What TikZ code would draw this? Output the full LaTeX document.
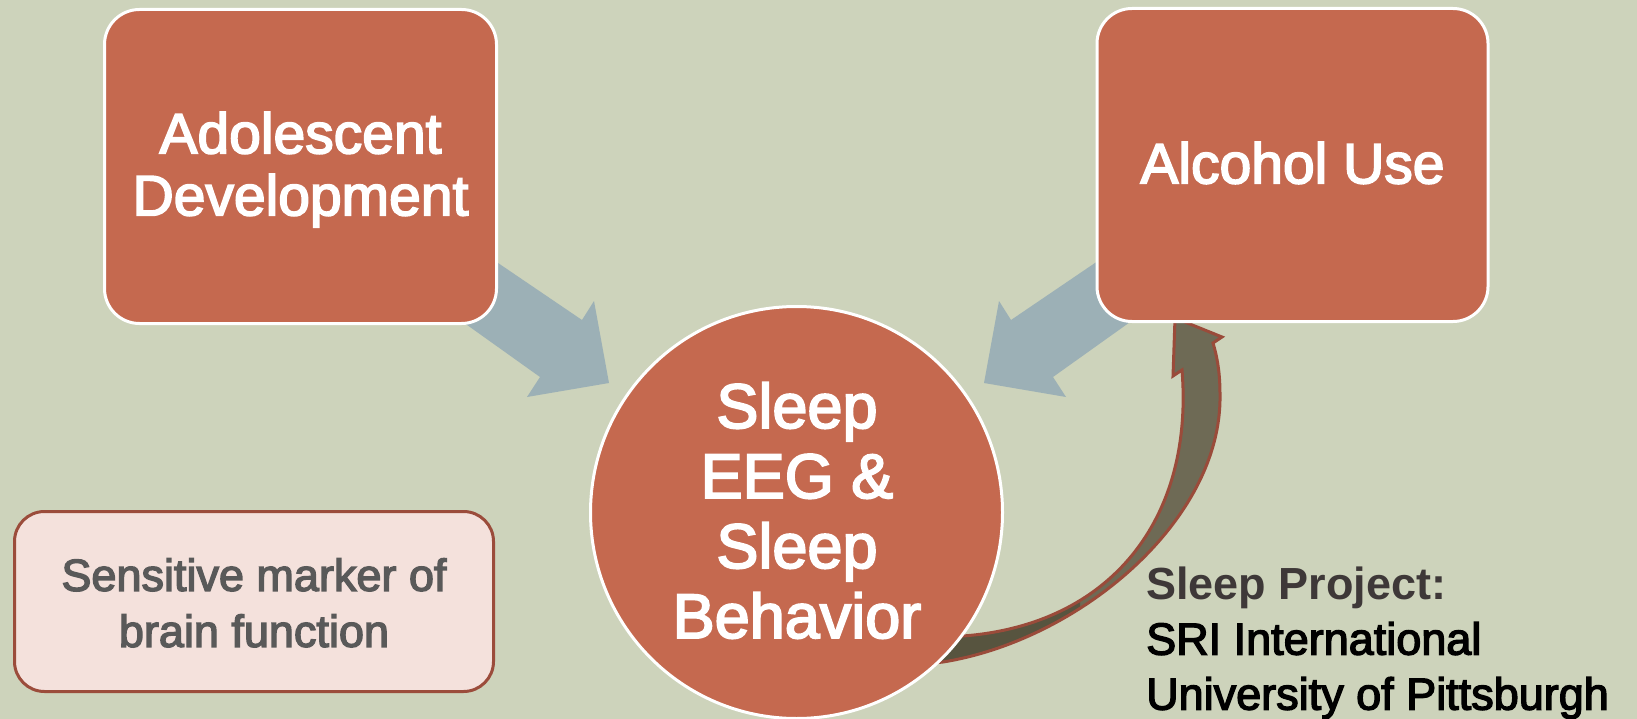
\documentclass[tikz,border=0pt]{standalone}
\usepackage{fontspec}
\setmainfont{Liberation Sans}
\newfontfamily\medsans{Liberation Sans}[FakeBold=3]
\definecolor{bgc}{HTML}{CDD3BB}
\definecolor{boxc}{HTML}{C5694F}
\definecolor{pinkc}{HTML}{F4E1DC}
\definecolor{pinkline}{HTML}{9B4C3B}
\definecolor{bluec}{HTML}{9CB0B6}
\definecolor{crvlight}{HTML}{6E6A55}
\definecolor{crvdark}{HTML}{57543F}
\definecolor{crvline}{HTML}{9A4B3A}
\definecolor{graytext}{HTML}{595959}
\definecolor{projgray}{HTML}{3E3838}
\newcommand\crvpath{(925,642) -- (963,636) .. controls (1110,625) and (1194,520) .. (1182,370) -- (1173,376) -- (1175,318) -- (1222,337) -- (1213,343) .. controls (1218,360) and (1220,375) .. (1220,395) .. controls (1222,520) and (1080,640) .. (943,662) -- (925,664) -- cycle}
\begin{document}
\begin{tikzpicture}[x=1pt,y=-1pt,
  bigbox/.style={draw=white, line width=3pt, fill=boxc, rounded corners=35pt, inner sep=0pt},
  boxtext/.style={text=white, align=center, inner sep=0pt, font=\medsans\fontsize{57}{62}\selectfont},
  circnode/.style={circle, draw=white, line width=3pt, fill=boxc, inner sep=0pt},
  circtext/.style={text=white, align=center, inner sep=0pt, font=\medsans\fontsize{63}{70}\selectfont},
  pinkbox/.style={draw=pinkline, line width=3pt, fill=pinkc, rounded corners=30pt, inner sep=0pt},
  pinktext/.style={text=graytext, align=center, inner sep=0pt, font=\medsans\fontsize{45}{56}\selectfont},
  projtext/.style={text=black, align=left, inner sep=0pt, font=\medsans\fontsize{45}{55}\selectfont},
  blockarrow/.style={fill=bluec},
  crvoutline/.style={draw=crvline, line width=3pt, line join=miter}
]
\useasboundingbox[fill=bgc] (0,0) rectangle (1637,719);
% block arrows
\fill[blockarrow] (420,210) -- (582,320) -- (594,301) -- (609,383) -- (527,397) -- (540,377) -- (390,270) -- cycle;
\fill[blockarrow] (1173,210) -- (1011,320) -- (999,301) -- (984,383) -- (1066,397) -- (1053,377) -- (1203,270) -- cycle;
% curved arrow
\fill[crvlight] \crvpath;
\begin{scope}
  \clip (880,580) rectangle (1080,719);
  \fill[crvdark] \crvpath;
\end{scope}
\draw[crvoutline] \crvpath;
% boxes
\node[bigbox, minimum width=392pt, minimum height=314pt] (adol) at (300.5,166.5) {};
\node[bigbox, minimum width=391pt, minimum height=313pt] (alc) at (1292.5,165) {};
\node[circnode, minimum size=412pt] (sleep) at (796.5,512.5) {};
\node[pinkbox, minimum width=479pt, minimum height=180pt] (marker) at (254,601.5) {};
% texts
\node[boxtext] (adolt) at (300.5,169.6) {Adolescent\\Development};
\node[boxtext] (alct) at (1292.5,163) {Alcohol Use};
\node[circtext] (sleept) at (797,510.5) {Sleep\\EEG \&\\Sleep\\Behavior};
\node[pinktext] (markert) at (254,602.8) {Sensitive marker of\\brain function};
\node[projtext, anchor=west] (proj) at (1146,643) {{\normalfont\bfseries\color{projgray}Sleep Project:}\\SRI International\\University of Pittsburgh};
\end{tikzpicture}
\end{document}
